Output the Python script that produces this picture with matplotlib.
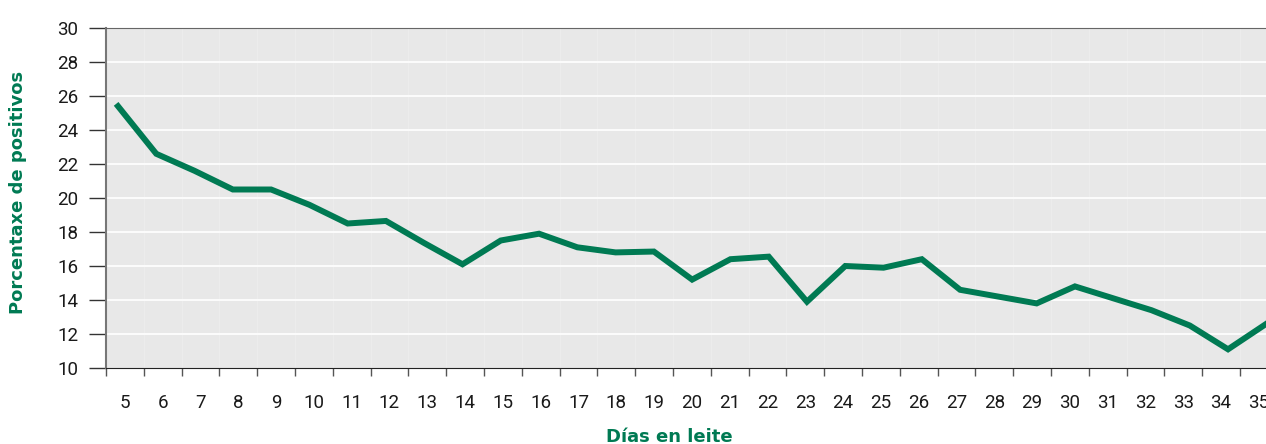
import matplotlib
matplotlib.use("Agg")
import matplotlib.pyplot as plt
import numpy as np

# days in milk and % positives
dias = list(range(5, 36))
porcentaxe = [25.4, 22.6, 21.6, 20.5, 20.5, 19.6, 18.5, 18.65, 17.35, 16.1,
              17.5, 17.9, 17.1, 16.8, 16.85, 15.2, 16.4, 16.55, 13.9, 16.0,
              15.9, 16.4, 14.6, 14.2, 13.8, 14.8, 14.1, 13.4, 12.5, 11.1, 12.6]
yticks = list(range(10, 31, 2))

green = '#007a53'
plt.rcParams['font.family'] = ['Roboto', 'DejaVu Sans']

W, H = 1266, 444
fig = plt.figure(figsize=(W / 100, H / 100), dpi=100)
cat_w = 37.8
left, bottom, top = 106, 368, 28
ax = fig.add_axes([left / W, 1 - bottom / H, len(dias) * cat_w / W, (bottom - top) / H])

x = np.arange(len(dias))
ax.set_facecolor('#e8e8e8')
for b in np.arange(0.5, len(dias) - 0.5, 1):
    ax.axvline(b, color='#ececec', lw=0.8, zorder=0)
for t in yticks[1:-1]:
    ax.axhline(t, color='white', lw=1.2, zorder=1)

ax.set_xlim(-0.5, len(dias) - 0.5)
ax.set_ylim(10, 30)
ax.set_yticks(yticks)
ax.set_yticklabels([str(t) for t in yticks], fontsize=13.5, color='#1a1a1a')
ax.set_xticks(x)
ax.set_xticklabels([str(d) for d in dias], fontsize=13.5, color='#1a1a1a')
ax.set_xticks(np.arange(-0.5, len(dias), 1), minor=True)
ax.tick_params(axis='x', which='major', length=0, pad=19)
ax.tick_params(axis='x', which='minor', length=6, width=1, color='#555555')
ax.tick_params(axis='y', length=12, width=1, color='#333333', pad=8)

ax.spines['right'].set_visible(False)
ax.spines['top'].set_color('#666666')
ax.spines['left'].set_color('#777777')
ax.spines['left'].set_linewidth(1.5)
ax.spines['bottom'].set_color('#222222')

# the line in the source sits on a slightly wider point spacing than the categories
lx = ax.twiny()
lx.set_xlim(-0.3135, 30.30)
lx.axis('off')
lx.plot(x, porcentaxe, color=green, lw=4.3, solid_joinstyle='miter', zorder=3)
lx.set_ylim(10, 30)

fig.text(18 / W, 1 - 192 / H, 'Porcentaxe de positivos', rotation=90, ha='center', va='center',
         fontsize=13, fontweight='bold', color=green, family='DejaVu Sans')
fig.text(669 / W, 1 - 437 / H, 'Días en leite', ha='center', va='center',
         fontsize=13, fontweight='bold', color=green, family='DejaVu Sans')

fig.savefig('out.png', dpi=100)
